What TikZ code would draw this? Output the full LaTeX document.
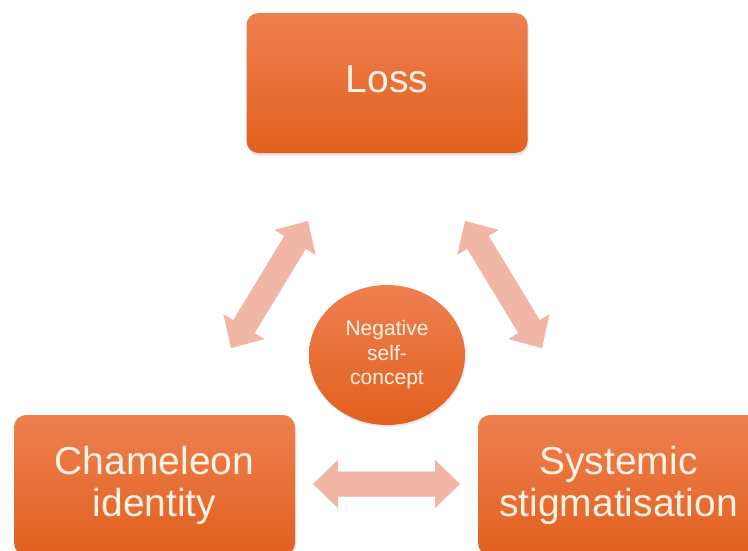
\documentclass[tikz,border=0pt]{standalone}
\usepackage{fontspec}
\setmainfont{Liberation Sans}
\usetikzlibrary{shapes.geometric,shadows,calc}
\definecolor{otop}{HTML}{EE8050}
\definecolor{obot}{HTML}{E2601E}
\definecolor{txtc}{HTML}{FFF3E6}
\definecolor{arrc}{HTML}{F1B6A6}
\newcommand\dblarrow[3][]{%
  \path[#1] (#2)
    -- ($($(#2)!25pt!(#3)$)!24pt!90:(#3)$)
    -- ($($(#2)!25pt!(#3)$)!12.5pt!90:(#3)$)
    -- ($($(#3)!25pt!(#2)$)!12.5pt!-90:(#2)$)
    -- ($($(#3)!25pt!(#2)$)!24pt!-90:(#2)$)
    -- (#3)
    -- ($($(#3)!25pt!(#2)$)!24pt!90:(#2)$)
    -- ($($(#3)!25pt!(#2)$)!12.5pt!90:(#2)$)
    -- ($($(#2)!25pt!(#3)$)!12.5pt!-90:(#3)$)
    -- ($($(#2)!25pt!(#3)$)!24pt!-90:(#3)$)
    -- cycle;}
\begin{document}
\begin{tikzpicture}[x=1pt,y=-1pt,
  box/.style={draw=none, rounded corners=12pt, top color=otop, bottom color=obot,
    minimum width=281pt, minimum height=140pt, inner sep=0pt, align=center,
    text=txtc, font=\fontsize{39}{42}\selectfont,
    drop shadow={opacity=0.22, shadow xshift=1pt, shadow yshift=-2.5pt}},
  core/.style={ellipse, draw=none, top color=otop, bottom color=obot,
    minimum width=156pt, minimum height=140pt, inner sep=0pt, align=center,
    text=txtc, font=\fontsize{21}{24.5}\selectfont,
    drop shadow={opacity=0.18, shadow xshift=1pt, shadow yshift=-2pt}},
  linkfill/.style={fill=arrc},
  linkshadow/.style={fill=black, opacity=0.10, shift={(1.5,2.5)}}]
\useasboundingbox (0,0) rectangle (748,551);
\fill[white] (0,0) rectangle (748,551);

\node[box, text depth=8pt] (loss) at (387,83) {Loss};
\node[box] (cham) at (154.5,485) {Chameleon\\identity};
\node[box] (sys) at (618.5,485) {Systemic\\stigmatisation};
\node[core] (neg) at (387,355) {Negative\\self-\\concept};

\coordinate (l1) at (231,348);
\coordinate (l2) at (308,221);
\coordinate (r1) at (465,221);
\coordinate (r2) at (542,348);
\coordinate (b1) at (313,484);
\coordinate (b2) at (460,484);

\dblarrow[linkshadow]{l1}{l2}
\dblarrow[linkshadow]{r1}{r2}
\dblarrow[linkshadow]{b1}{b2}
\dblarrow[linkfill]{l1}{l2}
\dblarrow[linkfill]{r1}{r2}
\dblarrow[linkfill]{b1}{b2}
\end{tikzpicture}
\end{document}
